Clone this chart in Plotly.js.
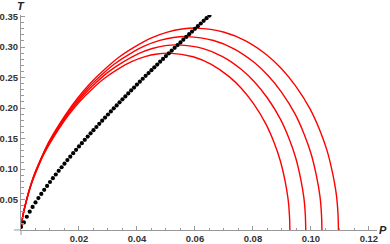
<!DOCTYPE html>
<html>
<head>
<meta charset="utf-8">
<script src="https://cdn.plot.ly/plotly-3.0.1.min.js"></script>
<style>html,body{margin:0;padding:0;background:#fff;}#chart{width:390px;height:244px;}</style>
</head>
<body>
<div id="chart"></div>
<script>
// Inversion curve (black dots)
var dotP = [0,0.001,0.002,0.003,0.004,0.005,0.006,0.007,0.008,0.009,0.010,0.011,0.012,0.013,0.014,0.015,0.016,0.017,0.018,0.019,0.020,0.021,0.022,0.023,0.024,0.025,0.026,0.027,0.028,0.029,0.030,0.031,0.032,0.033,0.034,0.035,0.036,0.037,0.038,0.039,0.040,0.041,0.042,0.043,0.044,0.045,0.046,0.047,0.048,0.049,0.050,0.051,0.052,0.053,0.054,0.055,0.056,0.057,0.058,0.059,0.060,0.061,0.062,0.063,0.064,0.065];
var dotT = [0.005,0.0125,0.0217,0.0300,0.0378,0.0452,0.0523,0.0591,0.0658,0.0723,0.0787,0.0849,0.0910,0.0970,0.1029,0.1088,0.1146,0.1202,0.1259,0.1315,0.1370,0.1424,0.1478,0.1532,0.1585,0.1637,0.1689,0.1741,0.1792,0.1843,0.1894,0.1944,0.1995,0.2043,0.2093,0.2142,0.2190,0.2239,0.2288,0.2335,0.2385,0.2432,0.2480,0.2527,0.2573,0.2620,0.2667,0.2713,0.2759,0.2805,0.2851,0.2896,0.2941,0.2987,0.3032,0.3076,0.3121,0.3165,0.3210,0.3254,0.3298,0.3342,0.3386,0.3430,0.3473,0.3516];

// Isenthalpic curves (red)
var p1 = [0.0002,0.0006,0.0012,0.0020,0.0030,0.0045,0.0065,0.0090,0.0120,0.0155,0.0195,0.0240,0.0290,0.0340,0.0395,0.0450,0.0505,0.0555,0.0603,0.0701,0.0775,0.0849,0.0898,0.0947,0.0997,0.1031,0.1056,0.1075,0.1088,0.10935,0.1095];
var t1 = [0.008,0.022,0.036,0.051,0.068,0.090,0.113,0.139,0.164,0.190,0.216,0.241,0.264,0.284,0.301,0.315,0.3245,0.3295,0.331,0.3243,0.3101,0.2866,0.2648,0.2364,0.1986,0.1632,0.1297,0.0927,0.0571,0.0256,0];
var p2 = [0.00019,0.00057,0.00114,0.0019,0.00284,0.00427,0.00616,0.00853,0.01138,0.01469,0.01849,0.02275,0.02749,0.03223,0.03745,0.04266,0.04787,0.05261,0.05716,0.06645,0.07347,0.08049,0.08513,0.08978,0.09452,0.09774,0.10011,0.10191,0.10314,0.10366,0.10381];
var t2 = [0.0077,0.0211,0.0345,0.0489,0.0651,0.0862,0.1083,0.1332,0.1571,0.1820,0.2069,0.2309,0.2529,0.2721,0.2884,0.3018,0.3109,0.3157,0.3171,0.3107,0.2971,0.2746,0.2537,0.2265,0.1903,0.1563,0.1243,0.0888,0.0547,0.0245,0];
var p3 = [0.00018,0.00054,0.00108,0.00179,0.00269,0.00404,0.00583,0.00807,0.01076,0.0139,0.01749,0.02153,0.02601,0.0305,0.03543,0.04037,0.0453,0.04978,0.05409,0.06288,0.06952,0.07616,0.08055,0.08495,0.08943,0.09248,0.09472,0.09643,0.09759,0.09809,0.09822];
var t3 = [0.0073,0.0202,0.0330,0.0468,0.0624,0.0825,0.1036,0.1275,0.1504,0.1742,0.1981,0.2210,0.2421,0.2604,0.2760,0.2889,0.2976,0.3022,0.3035,0.2974,0.2844,0.2628,0.2428,0.2168,0.1821,0.1497,0.1189,0.0850,0.0524,0.0235,0];
var p4 = [0.00017,0.00051,0.00102,0.00169,0.00254,0.00381,0.00551,0.00762,0.01016,0.01313,0.01652,0.02033,0.02456,0.0288,0.03346,0.03812,0.04277,0.04701,0.05107,0.05937,0.06564,0.07191,0.07606,0.08021,0.08445,0.08733,0.08944,0.09105,0.09215,0.09262,0.09275];
var t4 = [0.0070,0.0193,0.0315,0.0447,0.0596,0.0788,0.0990,0.1218,0.1437,0.1664,0.1892,0.2111,0.2313,0.2488,0.2637,0.2759,0.2843,0.2886,0.2900,0.2841,0.2716,0.2511,0.2320,0.2071,0.1740,0.1430,0.1136,0.0812,0.0500,0.0224,0];

var xTickVals = [0.02,0.04,0.06,0.08,0.10,0.12];
var xTickText = ['0.02','0.04','0.06','0.08','0.10','0.12'];
var yTickVals = [0.05,0.10,0.15,0.20,0.25,0.30,0.35];
var yTickText = ['0.05','0.10','0.15','0.20','0.25','0.30','0.35'];

var redLine = {color:'#ff0000', width:1.4, shape:'spline', smoothing:0.8};
var traces = [
  {x:p1, y:t1, mode:'lines', line:redLine, hoverinfo:'skip'},
  {x:p2, y:t2, mode:'lines', line:redLine, hoverinfo:'skip'},
  {x:p3, y:t3, mode:'lines', line:redLine, hoverinfo:'skip'},
  {x:p4, y:t4, mode:'lines', line:redLine, hoverinfo:'skip'},
  {x:dotP, y:dotT, mode:'markers', marker:{color:'#000', size:4.2}, hoverinfo:'skip'}
];

var axisCol = '#999999';
var tickFont = {family:'Liberation Sans, Arial, sans-serif', size:9.5, color:'#333', weight:'bold'};
var layout = {
  width:390, height:244,
  margin:{l:21, r:13, t:15, b:14, pad:0},
  showlegend:false,
  paper_bgcolor:'#fff', plot_bgcolor:'#fff',
  xaxis:{range:[0,0.1228], showgrid:false, zeroline:false, showline:true, linecolor:axisCol, linewidth:1,
    tickmode:'array', tickvals:xTickVals, ticktext:xTickText, ticks:'inside', ticklen:4, tickcolor:axisCol, tickwidth:1,
    minor:{dtick:0.005, tick0:0, ticks:'inside', ticklen:2.5, tickcolor:axisCol, showgrid:false},
    tickfont:tickFont, fixedrange:true},
  yaxis:{range:[0,0.3525], showgrid:false, zeroline:false, showline:true, linecolor:axisCol, linewidth:1,
    tickmode:'array', tickvals:yTickVals, ticktext:yTickText, ticks:'inside', ticklen:4, tickcolor:axisCol, tickwidth:1,
    minor:{dtick:0.01, tick0:0, ticks:'inside', ticklen:2.5, tickcolor:axisCol, showgrid:false},
    tickfont:tickFont, fixedrange:true},
  shapes:[
    {type:'line', xref:'paper', yref:'paper', x0:-0.02, x1:0, y0:0, y1:0, line:{color:axisCol, width:1}},
    {type:'line', xref:'paper', yref:'paper', x0:0, x1:0, y0:-0.023, y1:0, line:{color:axisCol, width:1}}
  ],
  annotations:[
    {text:'<i>T</i>', xref:'paper', yref:'paper', x:0, y:1.042, xanchor:'center', yanchor:'middle', showarrow:false,
     font:{family:'Liberation Sans, Arial, sans-serif', size:11, color:'#222', weight:'bold'}},
    {text:'<i>P</i>', xref:'paper', yref:'paper', x:1.017, y:0, xanchor:'center', yanchor:'middle', showarrow:false,
     font:{family:'Liberation Sans, Arial, sans-serif', size:11, color:'#222', weight:'bold'}}
  ]
};
Plotly.newPlot('chart', traces, layout, {staticPlot:true, displayModeBar:false});
</script>
</body>
</html>
